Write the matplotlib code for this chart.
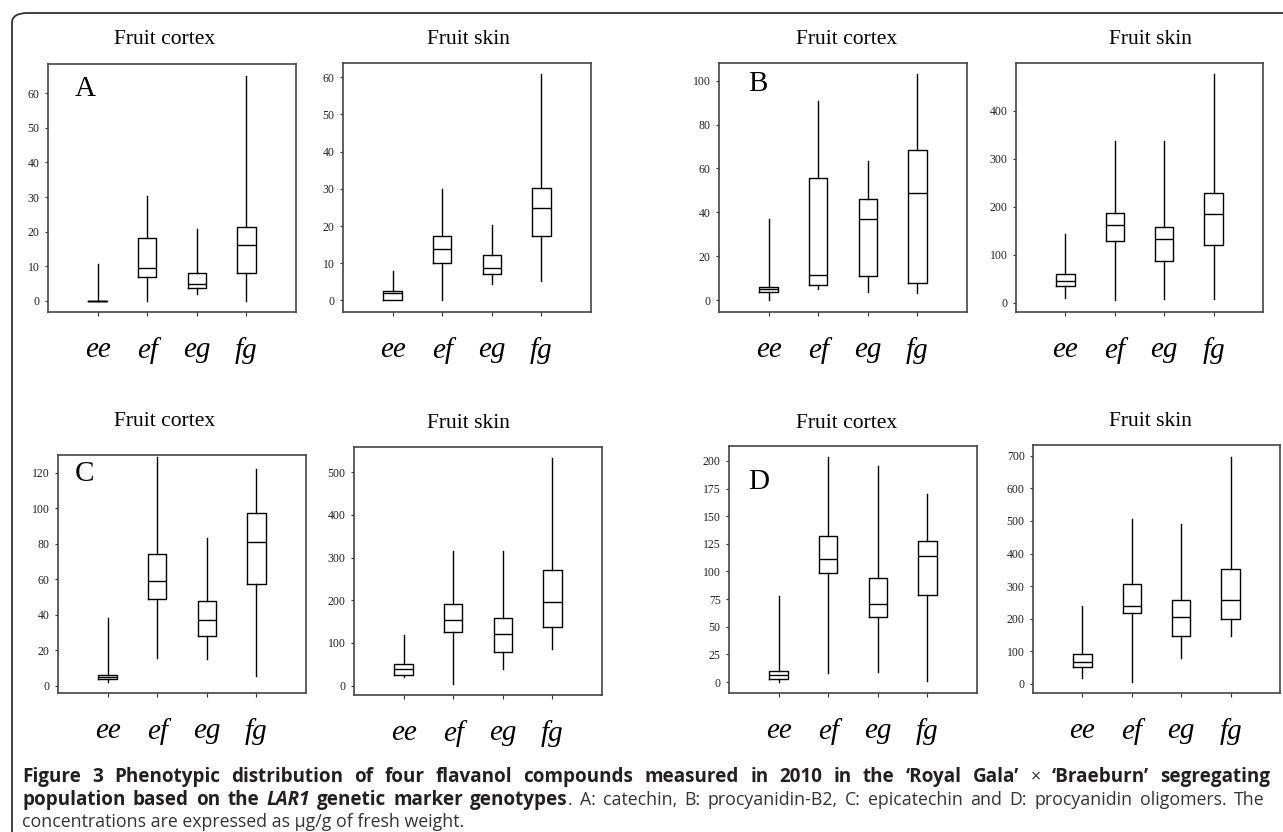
import matplotlib
matplotlib.use('Agg')
import matplotlib.pyplot as plt
from matplotlib.patches import FancyBboxPatch
from matplotlib.transforms import IdentityTransform

W, H = 1283, 832

# genotype classes on the x axis
genotypes = ['ee', 'ef', 'eg', 'fg']

# per genotype: [whisker low, q1, median, q3, whisker high]  (ug/g fresh weight)
a_cortex = [[0, 0, 0, 0, 10.6], [0, 7, 9.6, 18.3, 30.2], [2, 3.7, 5, 8, 20.8], [0, 8, 16, 21.2, 65]]
a_skin = [[0, 0, 2, 2.5, 8], [0, 10, 13.7, 17.3, 30], [4.5, 7, 8.7, 12.2, 20.3], [5.3, 17.3, 24.8, 30.3, 60.8]]
b_cortex = [[0, 4, 5, 6, 37], [5, 7, 11.5, 55.7, 90.5], [4, 11.3, 37, 46.3, 63.5], [3.5, 7.7, 49, 68.3, 103]]
b_skin = [[10, 35, 45, 60, 143], [5, 128, 162, 188, 338], [8, 86, 132, 157, 338], [7, 120, 184, 228, 478]]
c_cortex = [[2, 4, 5, 6, 38], [15.5, 49, 59, 74, 129], [15, 28, 37, 47.5, 83.5], [5.5, 57.5, 81, 97.5, 122]]
c_skin = [[20, 25, 38, 50, 118], [5, 125, 155, 192, 315], [38, 80, 120, 158, 315], [85, 137, 197, 270, 533]]
d_cortex = [[0, 3, 6, 10, 78], [8, 99, 111, 132, 204], [9, 59, 71, 94, 195], [1, 79, 114, 128, 170]]
d_skin = [[18, 52, 68, 92, 238], [5, 218, 238, 305, 505], [78, 145, 205, 258, 492], [145, 198, 256, 352, 698]]

# y tick values per panel
a_cortex_ticks = [0, 10, 20, 30, 40, 50, 60]
a_skin_ticks = [0, 10, 20, 30, 40, 50, 60]
b_cortex_ticks = [0, 20, 40, 60, 80, 100]
b_skin_ticks = [0, 100, 200, 300, 400]
c_cortex_ticks = [0, 20, 40, 60, 80, 100, 120]
c_skin_ticks = [0, 100, 200, 300, 400, 500]
d_cortex_ticks = [0, 25, 50, 75, 100, 125, 150, 175, 200]
d_skin_ticks = [0, 100, 200, 300, 400, 500, 600, 700]

fig = plt.figure(figsize=(W / 100, H / 100), dpi=100)

# outer rounded frame (runs off the right and bottom edges)
frame = FancyBboxPatch((12 / W, -0.1), 1.2, 1 - 13 / H + 0.1,
                       boxstyle='round,pad=0,rounding_size=0.012',
                       transform=fig.transFigure, fill=False,
                       edgecolor='#333333', linewidth=1.3)
fig.patches.append(frame)

serif = 'Liberation Serif'


def panel(stats, ticks, ylim, box, title, title_xy, letter=None, letter_xy=None):
    x0, y0, x1, y1 = box
    ax = fig.add_axes([x0 / W, 1 - y1 / H, (x1 - x0) / W, (y1 - y0) / H])
    bstats = [dict(whislo=s[0], q1=s[1], med=s[2], q3=s[3], whishi=s[4], label=g)
              for s, g in zip(stats, genotypes)]
    lw = 1.0
    ax.bxp(bstats, positions=[1, 2, 3, 4], widths=0.37, showcaps=False, showfliers=False,
           boxprops=dict(color='black', linewidth=lw),
           whiskerprops=dict(color='black', linewidth=lw),
           medianprops=dict(color='black', linewidth=lw))
    ax.set_xlim(0, 5)
    ax.set_ylim(*ylim)
    ax.set_yticks(ticks)
    ax.set_yticklabels([str(t) for t in ticks], fontsize=8.5, family=serif, color='#222222')
    ax.set_xticks([1, 2, 3, 4])
    ax.set_xticklabels(genotypes, fontsize=21, family=serif, style='italic')
    ax.tick_params(axis='y', length=2, width=0.8, pad=4, color='#333333')
    ax.tick_params(axis='x', length=3, width=0.8, pad=15, color='#333333')
    for sp in ax.spines.values():
        sp.set_color('#444444')
        sp.set_linewidth(1.2)
    fig.text(title_xy[0] / W, 1 - title_xy[1] / H, title, ha='center', va='center',
             fontsize=15.5, family=serif)
    if letter:
        fig.text(letter_xy[0] / W, 1 - letter_xy[1] / H, letter, ha='left', va='top',
                 fontsize=21, family=serif)
    return ax


panel(a_cortex, a_cortex_ticks, (-3.2, 68.4), (48, 64, 296, 312), 'Fruit cortex', (165, 39), 'A', (75, 76))
panel(a_skin, a_skin_ticks, (-3.1, 63.8), (343, 63, 591, 312), 'Fruit skin', (468, 39))
panel(b_cortex, b_cortex_ticks, (-5.3, 108), (719, 63, 967, 312), 'Fruit cortex', (847, 39), 'B', (748, 71))
panel(b_skin, b_skin_ticks, (-19.5, 500), (1016, 63, 1263, 312), 'Fruit skin', (1150, 39))
panel(c_cortex, c_cortex_ticks, (-4.1, 130), (58, 455, 306, 693), 'Fruit cortex', (165, 422), 'C', (75, 461))
panel(c_skin, c_skin_ticks, (-21.8, 559), (354, 447, 602, 695), 'Fruit skin', (468, 423))
panel(d_cortex, d_cortex_ticks, (-9.9, 213.5), (729, 446, 977, 693), 'Fruit cortex', (847, 423), 'D', (748, 469))
panel(d_skin, d_skin_ticks, (-28.7, 733.6), (1033, 445, 1280, 693), 'Fruit skin', (1150, 422))

# ---- caption ----
cap_font = 'Open Sans'
bold = dict(family=cap_font, fontsize=13.6, weight='bold', color='#231f20')
bold_it = dict(family=cap_font, fontsize=13.6, weight='bold', style='italic', color='#231f20')
reg = dict(family=cap_font, fontsize=12.8, color='#333333')

line1 = [[('Figure', bold)], [('3', bold)], [('Phenotypic', bold)], [('distribution', bold)],
         [('of', bold)], [('four', bold)], [('flavanol', bold)], [('compounds', bold)],
         [('measured', bold)], [('in', bold)], [('2010', bold)], [('in', bold)], [('the', bold)],
         [('\u2018Royal', bold)], [('Gala\u2019', bold)], [('\u00d7', reg)], [('\u2018Braeburn\u2019', bold)],
         [('segregating', bold)]]
line2 = [[('population', bold)], [('based', bold)], [('on', bold)], [('the', bold)], [('LAR1', bold_it)],
         [('genetic', bold)], [('marker', bold)], [('genotypes', bold), ('.', reg)], [('A:', reg)],
         [('catechin,', reg)], [('B:', reg)], [('procyanidin-B2,', reg)], [('C:', reg)],
         [('epicatechin', reg)], [('and', reg)], [('D:', reg)], [('procyanidin', reg)],
         [('oligomers.', reg)], [('The', reg)]]
line3 = 'concentrations are expressed as \u00b5g/g of fresh weight.'

fig.canvas.draw()
renderer = fig.canvas.get_renderer()


def text_width(s, props):
    t = fig.text(0, 0, s, **props)
    w = t.get_window_extent(renderer).width
    t.remove()
    return w


def justify(words, x_left, x_right, y_mid):
    widths = [[text_width(s, p) for s, p in w] for w in words]
    total = sum(sum(w) for w in widths)
    gap = (x_right - x_left - total) / (len(words) - 1)
    x = x_left
    for w, ws in zip(words, widths):
        for (s, p), pw in zip(w, ws):
            fig.text(x, H - y_mid, s, transform=IdentityTransform(), ha='left', va='baseline', **p)
            x += pw
        x += gap


cap_x = 22
justify(line1, cap_x, 1270, 782)
justify(line2, cap_x, 1264, 805)
fig.text(cap_x, H - 827, line3, transform=IdentityTransform(), ha='left', va='baseline', **reg)

fig.savefig('out.png', dpi=100)
